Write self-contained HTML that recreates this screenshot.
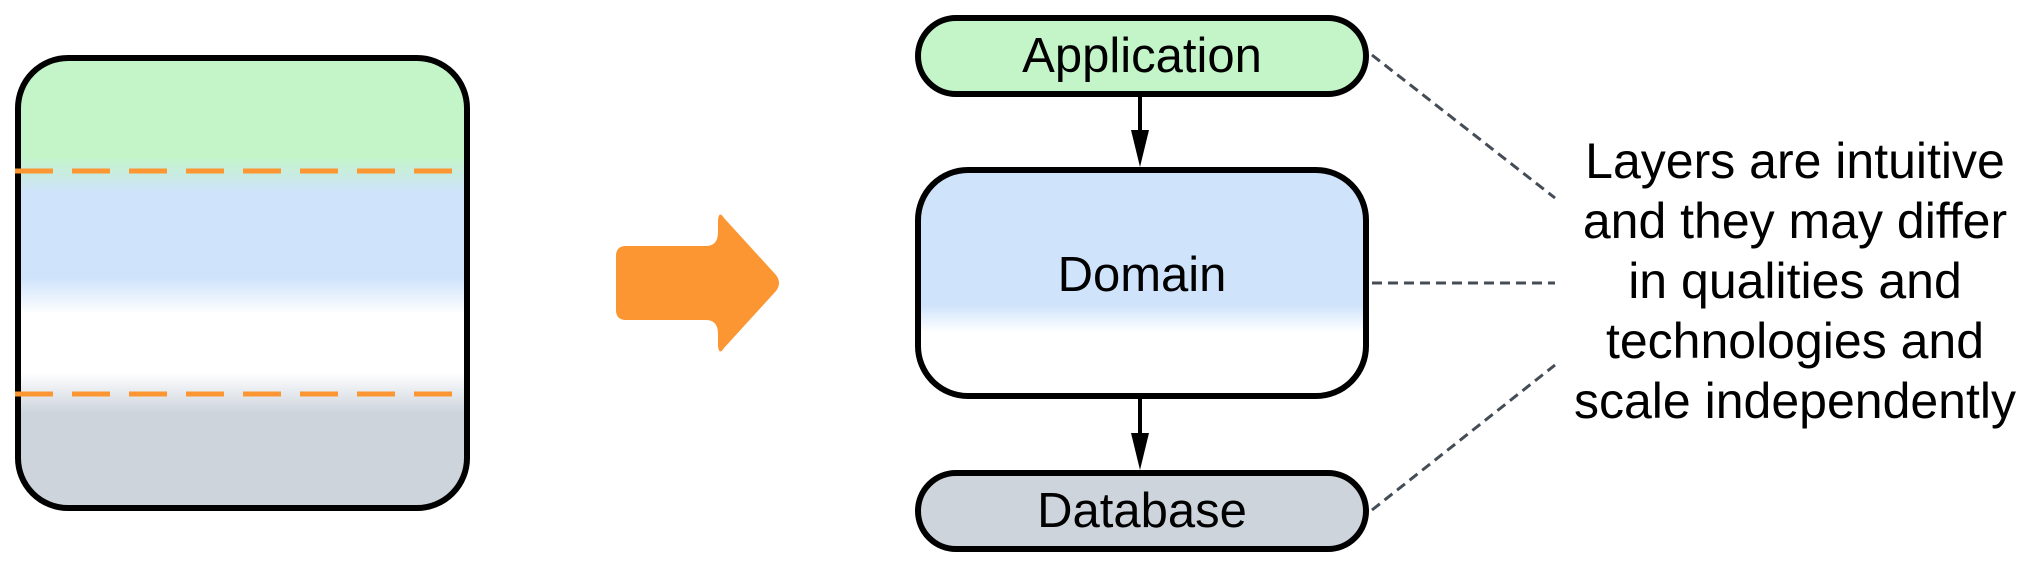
<!DOCTYPE html>
<html><head><meta charset="utf-8"><style>
html,body{margin:0;padding:0;background:#fff;}
</style></head><body>
<svg width="2034" height="564" viewBox="0 0 2034 564" xmlns="http://www.w3.org/2000/svg" style="display:block">
<defs>
<linearGradient id="lg" x1="0" y1="57" x2="0" y2="508" gradientUnits="userSpaceOnUse">
<stop offset="0" stop-color="#c3f5c8"/>
<stop offset="0.22" stop-color="#c3f5c8"/>
<stop offset="0.3" stop-color="#cfe3fb"/>
<stop offset="0.49" stop-color="#cfe3fb"/>
<stop offset="0.57" stop-color="#ffffff"/>
<stop offset="0.7" stop-color="#ffffff"/>
<stop offset="0.79" stop-color="#cdd4dc"/>
<stop offset="1" stop-color="#cdd4dc"/>
</linearGradient>
<linearGradient id="dg" x1="0" y1="169" x2="0" y2="396" gradientUnits="userSpaceOnUse">
<stop offset="0" stop-color="#cfe3fb"/>
<stop offset="0.6" stop-color="#cfe3fb"/>
<stop offset="0.72" stop-color="#ffffff"/>
<stop offset="1" stop-color="#ffffff"/>
</linearGradient>
</defs>
<rect x="18" y="58" width="449" height="450" rx="50" ry="50" fill="url(#lg)" stroke="#000" stroke-width="6"/>
<line x1="15" y1="171" x2="470" y2="171" stroke="#fb9632" stroke-width="5" stroke-dasharray="38,19"/>
<line x1="15" y1="394" x2="470" y2="394" stroke="#fb9632" stroke-width="5" stroke-dasharray="38,19"/>
<path d="M626,246 L706,246 Q718,246 718,232 L718,220 Q719,210 724,218 L776,275 Q782,283 776,291 L724,348 Q719,356 718,346 L718,334 Q718,320 706,320 L626,320 Q616,320 616,310 L616,256 Q616,246 626,246 Z" fill="#fb9632"/>
<rect x="918" y="18" width="448" height="76" rx="38" ry="38" fill="#c3f5c8" stroke="#000" stroke-width="6"/>
<rect x="918" y="170" width="448" height="226" rx="50" ry="50" fill="url(#dg)" stroke="#000" stroke-width="6"/>
<rect x="918" y="473" width="448" height="76" rx="38" ry="38" fill="#cdd4dc" stroke="#000" stroke-width="6"/>
<line x1="1140" y1="96" x2="1140" y2="140" stroke="#000" stroke-width="4"/>
<path d="M1131,130 L1149,130 L1140,167 Z" fill="#000"/>
<line x1="1140" y1="398" x2="1140" y2="442" stroke="#000" stroke-width="4"/>
<path d="M1131,433 L1149,433 L1140,470 Z" fill="#000"/>
<g font-family="Liberation Sans, sans-serif" font-size="49" fill="#000" text-anchor="middle">
<text x="1142" y="72">Application</text>
<text x="1142" y="291">Domain</text>
<text x="1142" y="527">Database</text>
</g>
<g stroke="#444c56" stroke-width="3" stroke-dasharray="10,6" fill="none">
<line x1="1372" y1="55" x2="1555" y2="198"/>
<line x1="1372" y1="283" x2="1555" y2="283"/>
<line x1="1372" y1="510" x2="1555" y2="365"/>
</g>
<g font-family="Liberation Sans, sans-serif" font-size="50" fill="#000" text-anchor="middle">
<text x="1795" y="178">Layers are intuitive</text>
<text x="1795" y="238">and they may differ</text>
<text x="1795" y="298">in qualities and</text>
<text x="1795" y="358">technologies and</text>
<text x="1795" y="418">scale independently</text>
</g>
</svg>
</body></html>
